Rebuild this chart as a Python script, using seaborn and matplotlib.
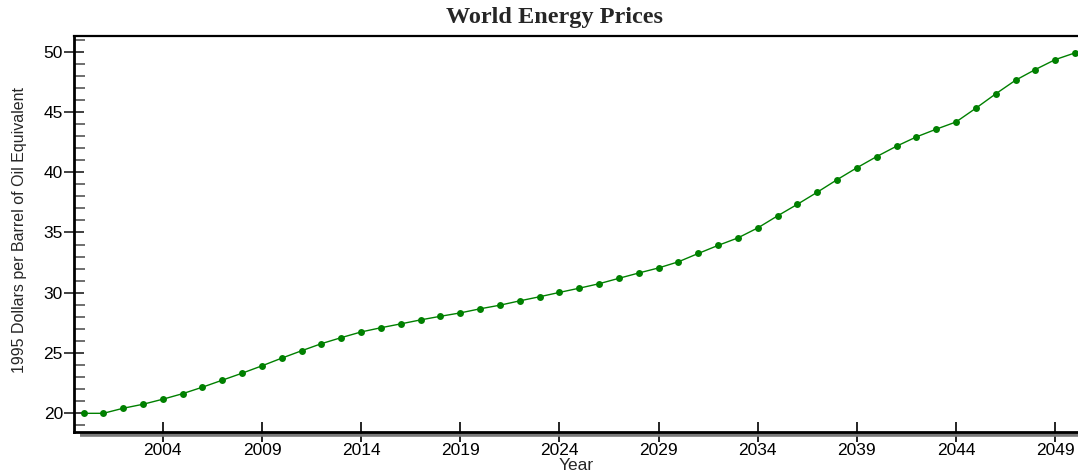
import numpy as np
import pandas as pd
import matplotlib
matplotlib.use("Agg")
import matplotlib.pyplot as plt
import seaborn as sns
from matplotlib.ticker import MultipleLocator

years = list(range(2000, 2051))
prices = [
    20.0, 20.0, 20.42, 20.75, 21.17, 21.63, 22.17, 22.75, 23.33, 23.94,
    24.58, 25.19, 25.78, 26.28, 26.75, 27.1, 27.42, 27.75, 28.05, 28.33,
    28.67, 28.97, 29.33, 29.67, 30.03, 30.38, 30.75, 31.2, 31.64, 32.06,
    32.57, 33.26, 33.93, 34.55, 35.38, 36.38, 37.34, 38.34, 39.38, 40.37,
    41.3, 42.16, 42.93, 43.57, 44.17, 45.31, 46.5, 47.63, 48.52, 49.34,
    49.9,
]
xtick_years = [2004, 2009, 2014, 2019, 2024, 2029, 2034, 2039, 2044, 2049]

df = pd.DataFrame({"year": years, "price": prices})

sns.set_style("white")
plt.rcParams['font.family'] = ['Liberation Sans', 'DejaVu Sans']

fig = plt.figure(figsize=(10.78, 4.72), dpi=100)
ax = fig.add_axes([74 / 1078, 1 - 432 / 472, 1 - 74 / 1078, (432 - 36) / 472])

sns.lineplot(data=df, x="year", y="price", ax=ax, color="#008000",
             linewidth=1.0, marker="o", markersize=5, markeredgewidth=0)

ax.set_xlim(1999.52, 2050.15)
ax.set_ylim(18.45, 51.3)

ax.set_xticks(xtick_years)
ax.set_xticklabels([str(y) for y in xtick_years], fontsize=12.5)
ax.yaxis.set_major_locator(MultipleLocator(5))
ax.yaxis.set_minor_locator(MultipleLocator(1))
ax.tick_params(which="both", bottom=True, left=True, top=False, right=False)
ax.tick_params(axis="x", which="minor", bottom=False)
ax.tick_params(axis="y", which="major", direction="inout", length=14, width=1.3,
               colors="#333333", labelsize=12.5, labelcolor="black", pad=1)
ax.tick_params(axis="y", which="minor", direction="in", length=8, width=1.2,
               colors="#555555")
ax.tick_params(axis="x", which="major", direction="inout", length=14, width=1.2,
               colors="black", labelsize=12.5, pad=1)

for side in ["left", "bottom"]:
    ax.spines[side].set_linewidth(2.0)
    ax.spines[side].set_color("black")
ax.spines["top"].set_linewidth(1.6)
ax.spines["top"].set_color("black")
ax.spines["right"].set_visible(False)

# grey shadow under the bottom axis
ax.plot([0.006, 1.0], [-0.008, -0.008], transform=ax.transAxes, color="#7a7a7a",
        linewidth=2.6, clip_on=False, solid_capstyle="butt")

ax.set_xlabel("Year", fontsize=12.5, labelpad=0)
ax.set_ylabel("1995 Dollars per Barrel of Oil Equivalent", fontsize=11.5)
ax.yaxis.set_label_coords(-47 / 1004, 202 / 396)

fig.text(555 / 1078, 1 - 17 / 472, "World Energy Prices", ha="center", va="center",
         fontsize=17.5, fontweight="bold", family=["Liberation Serif", "DejaVu Serif"])

fig.savefig("out.png", dpi=100)
